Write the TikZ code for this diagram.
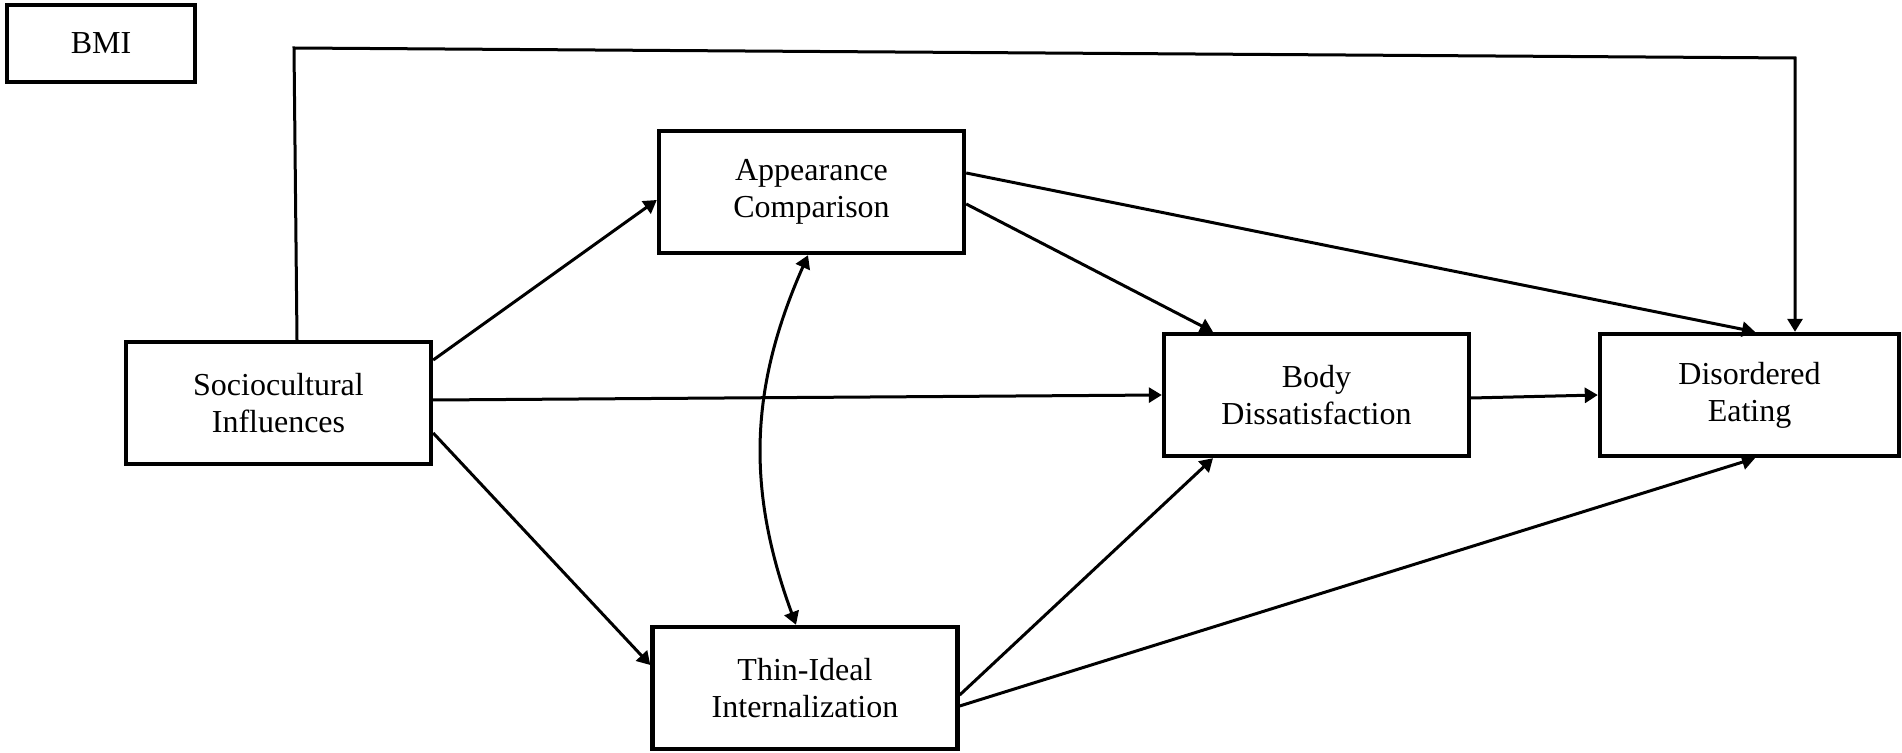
\documentclass[tikz,border=0pt]{standalone}
\usepackage{fontspec}
\setmainfont{Liberation Serif}
\usetikzlibrary{arrows.meta}

\begin{document}
\begin{tikzpicture}[x=0.5pt, y=-0.5pt,
    box/.style={draw, line width=2.2pt, inner sep=0pt, align=center,
      minimum width=152.5pt, minimum height=61pt,
      font=\fontsize{16}{18.5}\selectfont},
    path/.style={line width=1.5pt},
    arrow/.style={path, -{Triangle[length=6.5pt,width=7.5pt]}},
    twoway/.style={path, {Triangle[length=6.5pt,width=7.5pt]}-{Triangle[length=6.5pt,width=7.5pt]}}]
  \useasboundingbox (0,0) rectangle (1902,753);

  % Boxes
  \node[box, minimum width=94pt, minimum height=38.5pt] (bmi) at (101,43.5) {BMI};
  \node[box] (socio) at (278.5,403) {Sociocultural\\Influences};
  \node[box] (appear) at (811.5,192) {Appearance\\Comparison};
  \node[box] (thin) at (805,688) {Thin-Ideal\\Internalization};
  \node[box] (body) at (1316.5,395) {Body\\Dissatisfaction};
  \node[box, minimum width=149.5pt] (disord) at (1749.5,395) {Disordered\\Eating};

  % BMI path
  \coordinate (bmiL) at (294,48);
  \coordinate (bmiR) at (1795,58);
  \draw[arrow] ([xshift=9.25pt]socio.north) -- (bmiL) -- (bmiR) -- (bmiR |- disord.north);

  % Paths from sociocultural influences
  \draw[arrow] ([yshift=21.5pt]socio.east) -- ([yshift=-4pt]appear.west);
  \draw[arrow] ([yshift=1.5pt]socio.east) -- ([yshift=0pt]body.west);
  \draw[arrow] ([yshift=-15pt]socio.east) -- ([yshift=11.5pt]thin.west);

  % Mediators
  \draw[arrow] ([yshift=-6pt]appear.east) -- ([xshift=-51.75pt]body.north);
  \draw[arrow] ([yshift=9.5pt]appear.east) -- ([xshift=2.75pt]disord.north);
  \draw[arrow] ([yshift=-3.5pt]thin.east) -- ([xshift=-51.75pt]body.south);
  \draw[arrow] ([yshift=-9pt]thin.east) -- ([xshift=2.75pt]disord.south);
  \draw[arrow] ([yshift=-1.5pt]body.east) -- ([yshift=0pt]disord.west);

  % Covariance
  \draw[twoway] ([xshift=-1.75pt]appear.south) to[bend right=22] ([xshift=-4.5pt]thin.north);
\end{tikzpicture}
\end{document}
